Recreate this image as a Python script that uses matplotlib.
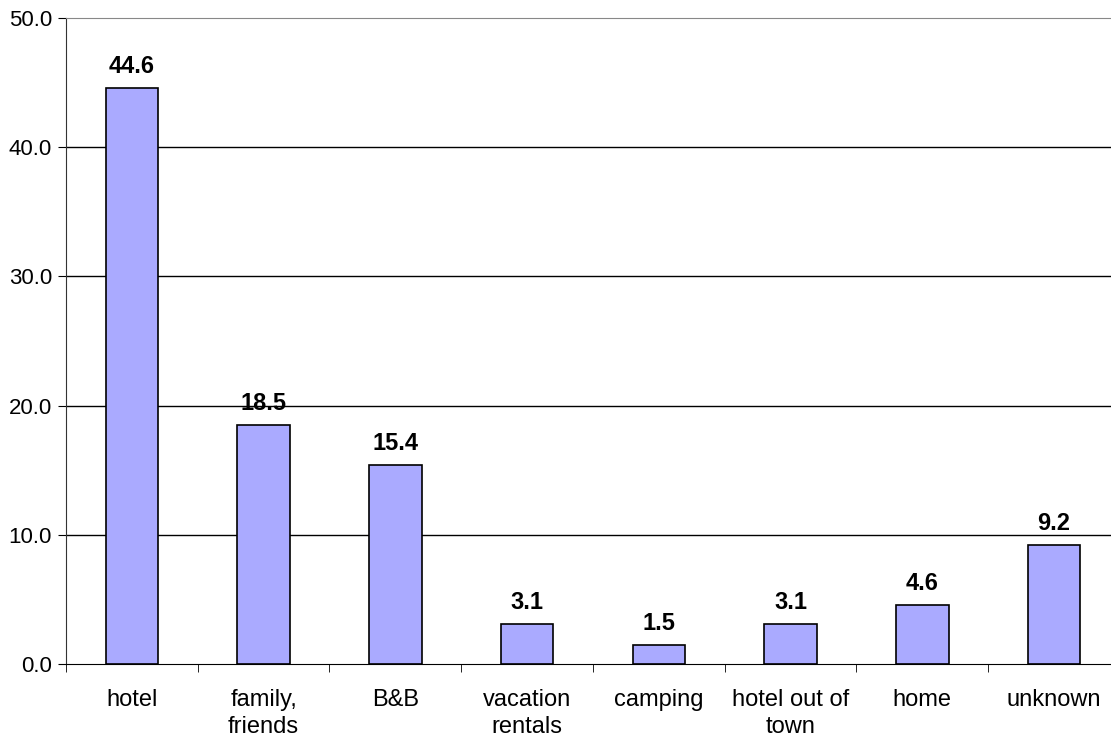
import numpy as np
import matplotlib.pyplot as plt

categories = ["hotel", "family,\nfriends", "B&B", "vacation\nrentals", "camping",
              "hotel out of\ntown", "home", "unknown"]
values = [44.6, 18.5, 15.4, 3.1, 1.5, 3.1, 4.6, 9.2]
yticks = [0, 10, 20, 30, 40, 50]

plt.rcParams['font.family'] = ['Liberation Sans', 'DejaVu Sans']

fig = plt.figure(figsize=(11.11, 7.38), dpi=100)
ax = fig.add_axes([0.0594, 0.1003, 0.9487, 0.8753])

x = np.arange(len(categories))
ax.bar(x, values, width=0.4, color="#aaaaff", edgecolor="black", linewidth=1.2, zorder=3)
for xi, v in zip(x, values):
    ax.text(xi, v + 0.75, f"{v:.1f}", ha="center", va="bottom", fontsize=17, fontweight="bold")

ax.set_xlim(-0.5, len(categories) - 0.5)
ax.set_ylim(0, 50)
ax.set_yticks(yticks)
ax.set_yticklabels([f"{t:.1f}" for t in yticks], fontsize=16)
for t in yticks[1:-1]:
    ax.axhline(t, color="black", linewidth=1, zorder=1)

ax.set_xticks(x)
ax.set_xticklabels(categories, fontsize=17, linespacing=1.28)
ax.set_xticks(np.arange(len(categories) + 1) - 0.5, minor=True)
ax.tick_params(axis="x", which="major", length=0, pad=18)
ax.tick_params(axis="x", which="minor", length=6, direction="out")
ax.tick_params(axis="y", length=6, direction="out", pad=4)

ax.spines["right"].set_visible(False)
ax.spines["top"].set_color("#888888")
ax.spines["left"].set_color("#333333")

fig.savefig("out.png", dpi=100)
